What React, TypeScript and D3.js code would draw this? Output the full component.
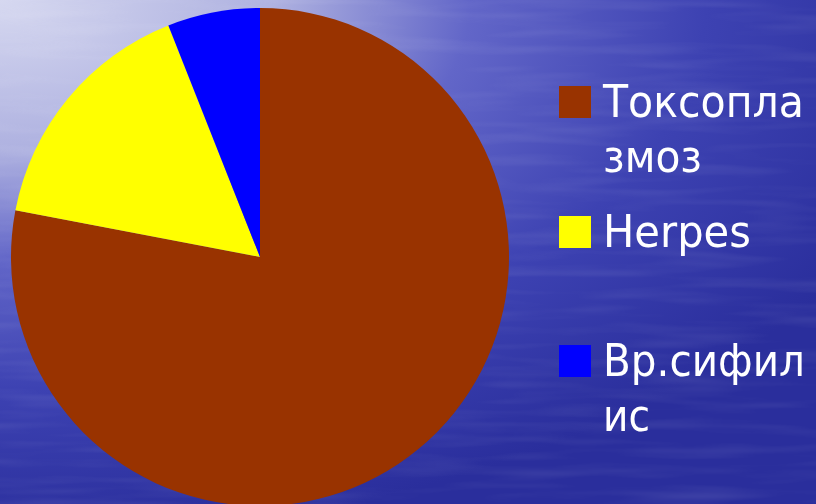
import React, { useLayoutEffect, useRef, useState } from "react";
import * as d3 from "d3";

const categories = ["Токсоплазмоз", "Herpes", "Вр.сифилис"];
const values = [78, 16, 6];
const colors = ["#993300", "#FFFF00", "#0000FF"];
const legendLines = [["Токсопла", "змоз"], ["Herpes"], ["Вр.сифил", "ис"]];
const legendWidths = [[201, 99], [148], [202, 47]];

const W = 816;
const H = 504;

function FitText({ x, y, width, children }: { x: number; y: number; width: number; children: string }) {
  const ref = useRef<SVGTextElement>(null);
  const [sx, setSx] = useState(0.9);
  useLayoutEffect(() => {
    if (ref.current) {
      const w = ref.current.getComputedTextLength();
      if (w > 0) setSx(width / w);
    }
  }, [width, children]);
  return (
    <g transform={`translate(${x},${y}) scale(${sx},1)`}>
      <text ref={ref} x={0} y={0}>
        {children}
      </text>
    </g>
  );
}

export default function App() {
  const cx = 260;
  const cy = 257;
  const r = 249;
  const pie = d3.pie<number>().sort(null).value((d) => d).startAngle(0).endAngle(2 * Math.PI);
  const arcs = pie(values);
  const arc = d3.arc<d3.PieArcDatum<number>>().innerRadius(0).outerRadius(r);

  const legendY = [86, 216, 345];
  const lineGap = 55;

  return (
    <svg
      width={W}
      height={H}
      style={{ position: "fixed", left: 0, top: 0, display: "block" }}
      xmlns="http://www.w3.org/2000/svg"
    >
      <defs>
        <radialGradient id="bg" cx="0" cy="0" r="1" gradientUnits="userSpaceOnUse" gradientTransform="translate(0,0) scale(980,540)">
          <stop offset="0" stopColor="#d6d8f0" />
          <stop offset="0.28" stopColor="#aeb1e0" />
          <stop offset="0.48" stopColor="#6266c8" />
          <stop offset="0.72" stopColor="#3d42b2" />
          <stop offset="1" stopColor="#2a2e9c" />
        </radialGradient>
        <filter id="streaks" x="0" y="0" width="100%" height="100%">
          <feTurbulence type="fractalNoise" baseFrequency="0.008 0.09" numOctaves="2" seed="3" />
          <feColorMatrix
            type="matrix"
            values="0 0 0 0 1  0 0 0 0 1  0 0 0 0 1  0 0 0 0.9 -0.4"
          />
        </filter>
      </defs>
      <rect x={0} y={0} width={W} height={H} fill="url(#bg)" />
      <rect x={0} y={0} width={W} height={H} filter="url(#streaks)" opacity={0.18} />
      <g transform={`translate(${cx},${cy})`}>
        {arcs.map((a, i) => (
          <path key={categories[i]} d={arc(a) || ""} fill={colors[i]} />
        ))}
      </g>
      <g fontFamily="'DejaVu Sans', Verdana, sans-serif" fontSize={45} fill="#ffffff">
        {categories.map((c, i) => (
          <g key={c}>
            <rect x={559} y={legendY[i]} width={32} height={32} fill={colors[i]} />
            {legendLines[i].map((t, j) => (
              <FitText key={j} x={603} y={legendY[i] + 31 + j * lineGap} width={legendWidths[i][j]}>
                {t}
              </FitText>
            ))}
          </g>
        ))}
      </g>
    </svg>
  );
}
